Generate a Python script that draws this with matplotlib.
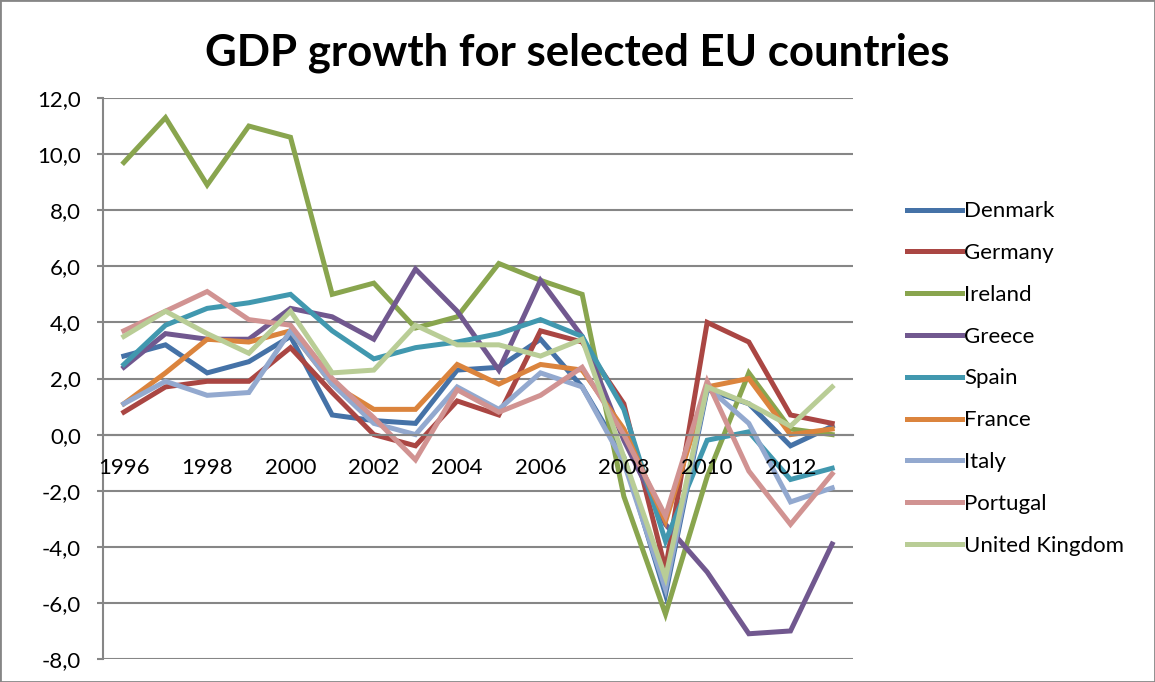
import numpy as np
import matplotlib.pyplot as plt
from matplotlib.patches import Rectangle
from matplotlib.ticker import FuncFormatter

# Годы и значения роста ВВП (%)
years = list(range(1996, 2014))

denmark = [2.8, 3.2, 2.2, 2.6, 3.5, 0.7, 0.5, 0.4, 2.3, 2.4, 3.4, 1.7, -0.8, -5.7, 1.6, 1.1, -0.4, 0.3]
germany = [0.8, 1.7, 1.9, 1.9, 3.1, 1.5, 0.0, -0.4, 1.2, 0.7, 3.7, 3.3, 1.1, -4.8, 4.0, 3.3, 0.7, 0.4]
ireland = [9.7, 11.3, 8.9, 11.0, 10.6, 5.0, 5.4, 3.8, 4.2, 6.1, 5.5, 5.0, -2.2, -6.4, -1.5, 2.2, 0.2, 0.0]
greece = [2.4, 3.6, 3.4, 3.4, 4.5, 4.2, 3.4, 5.9, 4.4, 2.3, 5.5, 3.5, -0.2, -3.2, -4.9, -7.1, -7.0, -3.9]
spain = [2.5, 3.9, 4.5, 4.7, 5.0, 3.7, 2.7, 3.1, 3.3, 3.6, 4.1, 3.5, 0.9, -3.8, -0.2, 0.1, -1.6, -1.2]
france = [1.1, 2.2, 3.4, 3.3, 3.7, 1.8, 0.9, 0.9, 2.5, 1.8, 2.5, 2.3, 0.2, -3.1, 1.7, 2.0, 0.0, 0.2]
italy = [1.1, 1.9, 1.4, 1.5, 3.7, 1.8, 0.4, 0.0, 1.7, 0.9, 2.2, 1.7, -1.0, -5.5, 1.7, 0.4, -2.4, -1.9]
portugal = [3.7, 4.4, 5.1, 4.1, 3.9, 2.0, 0.6, -0.9, 1.6, 0.8, 1.4, 2.4, 0.0, -2.9, 1.9, -1.3, -3.2, -1.4]
uk = [3.5, 4.4, 3.6, 2.9, 4.4, 2.2, 2.3, 3.9, 3.2, 3.2, 2.8, 3.4, -0.8, -5.1, 1.7, 1.1, 0.3, 1.7]

names = ['Denmark', 'Germany', 'Ireland', 'Greece', 'Spain', 'France', 'Italy', 'Portugal', 'United Kingdom']
series = [denmark, germany, ireland, greece, spain, france, italy, portugal, uk]
colors = ['#4572A7', '#AA4643', '#89A54E', '#71588F', '#4198AF', '#DB843D', '#93A9CF', '#D19392', '#B9CD96']

plt.rcParams['font.family'] = ['Lato', 'DejaVu Sans']

fig = plt.figure(figsize=(11.55, 6.82), dpi=100)
ax = fig.add_axes([103 / 1155, 1 - 659 / 682, 750 / 1155, 561 / 682])

x = np.arange(len(years))
for name, vals, c in zip(names, series, colors):
    ax.plot(x, vals, color=c, lw=3.6, label=name, solid_joinstyle='miter')

ax.set_xlim(-0.5, len(years) - 0.5)
ax.set_ylim(-8, 12)
ax.set_yticks(np.arange(-8, 13, 2))
ax.yaxis.set_major_formatter(FuncFormatter(lambda v, p: f'{v:.1f}'.replace('.', ',')))
ax.grid(axis='y', color='#868686', lw=1.5)
ax.set_axisbelow(True)

ax.set_xticks(x[::2])
ax.set_xticklabels([str(y) for y in years[::2]])
ax.spines['bottom'].set_position(('data', 0))
ax.spines['bottom'].set_color('#868686')
ax.spines['bottom'].set_linewidth(1.5)
ax.spines['left'].set_color('#868686')
ax.spines['left'].set_linewidth(1.5)
ax.spines['top'].set_visible(False)
ax.spines['right'].set_visible(False)
ax.tick_params(axis='x', length=0, labelsize=16, pad=17)
ax.tick_params(axis='y', length=4, color='#868686', width=1.5, labelsize=16, pad=12)
# подписи лет поверх линий, как в Excel
ax.xaxis.set_zorder(5)

fig.text(0.5, 0.922, 'GDP growth for selected EU countries', ha='center', va='center',
         fontsize=31.5, fontweight='bold')

ax.legend(loc='center left', bbox_to_anchor=(1.045, 0.5), frameon=False, fontsize=16,
          handlelength=2.5, handletextpad=0.08, labelspacing=0.98)

fig.patches.append(Rectangle((0, 0), 1, 1, transform=fig.transFigure, fill=False,
                             edgecolor='#868686', lw=2))

plt.savefig('out.png', dpi=100)
